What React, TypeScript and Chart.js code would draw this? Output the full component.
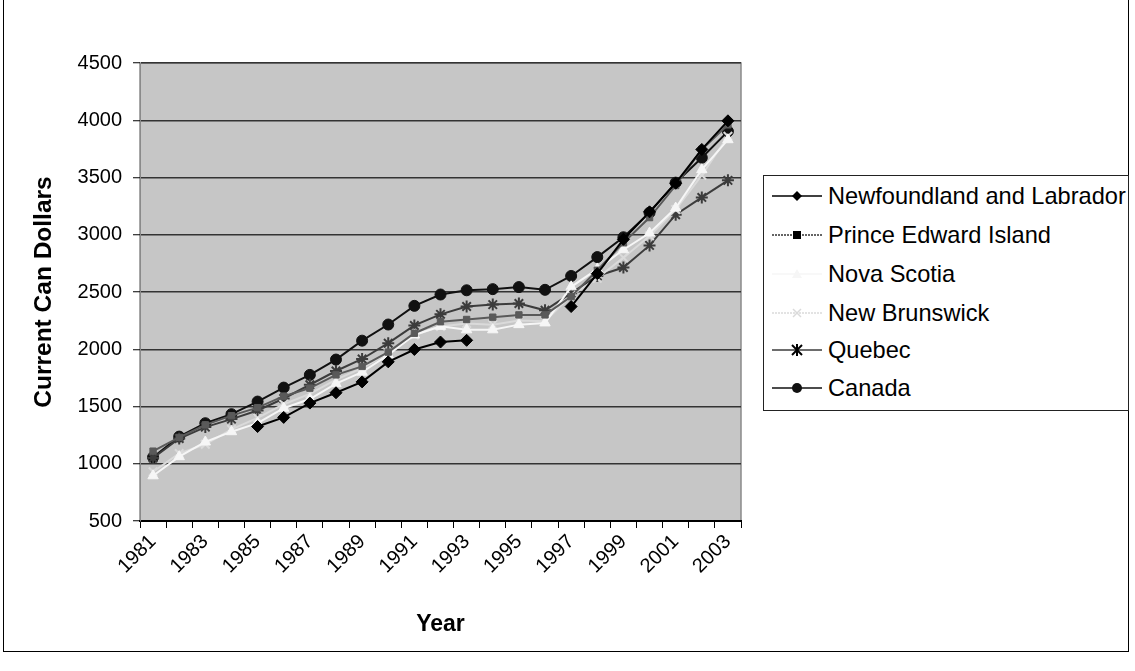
import React, { useEffect, useRef } from 'react';
import { Chart, registerables } from 'chart.js';

Chart.register(...registerables);

const FONT = "'Liberation Sans', Arial, Helvetica, sans-serif";

const years = ['1981', '1982', '1983', '1984', '1985', '1986', '1987', '1988', '1989', '1990', '1991', '1992', '1993', '1994', '1995', '1996', '1997', '1998', '1999', '2000', '2001', '2002', '2003'];

const yTicks = [500, 1000, 1500, 2000, 2500, 3000, 3500, 4000, 4500];

const newfoundland = [null, null, null, null, 1325, 1405, 1530, 1620, 1715, 1890, 1998, 2063, 2078, null, null, null, 2373, 2660, 2960, 3200, 3450, 3745, 3995];
const princeEdward = [1110, 1230, 1340, 1420, 1490, 1590, 1660, 1776, 1850, 1975, 2140, 2240, 2260, 2280, 2300, 2300, 2460, 2690, 2930, 3150, 3430, 3745, 3960];
const novaScotia = [895, 1062, 1190, 1280, 1355, 1485, 1565, 1700, 1800, 1950, 2125, 2200, 2170, 2170, 2215, 2230, 2545, 2700, 2869, 3015, 3233, 3568, 3830];
const newBrunswick = [930, 1090, 1170, 1300, 1400, 1520, 1610, 1735, 1835, 1966, 2125, 2198, 2225, 2215, 2250, 2245, 2470, 2620, 2800, 2990, 3220, 3520, 3860];
const quebec = [1050, 1220, 1320, 1390, 1465, 1570, 1690, 1810, 1915, 2053, 2208, 2305, 2373, 2390, 2400, 2340, 2490, 2640, 2714, 2907, 3175, 3326, 3475];
const canada = [1057, 1237, 1354, 1433, 1543, 1665, 1776, 1910, 2075, 2216, 2379, 2478, 2515, 2525, 2543, 2519, 2640, 2805, 2978, 3193, 3455, 3673, 3903];

type SeriesDef = {
  label: string;
  data: (number | null)[];
  color: string;
  marker: 'diamond' | 'square' | 'triangle' | 'x' | 'star' | 'circle';
};

const series: SeriesDef[] = [
  { label: 'Newfoundland and Labrador', data: newfoundland, color: '#000000', marker: 'diamond' },
  { label: 'Prince Edward Island', data: princeEdward, color: '#5a5a5a', marker: 'square' },
  { label: 'Nova Scotia', data: novaScotia, color: '#f6f6f6', marker: 'triangle' },
  { label: 'New Brunswick', data: newBrunswick, color: '#dadada', marker: 'x' },
  { label: 'Quebec', data: quebec, color: '#3c3c3c', marker: 'star' },
  { label: 'Canada', data: canada, color: '#111111', marker: 'circle' },
];

const chartStyle: Record<string, string> = {
  diamond: 'rectRot',
  square: 'rect',
  triangle: 'triangle',
  x: 'crossRot',
  star: 'star',
  circle: 'circle',
};

function LegendSample({ s }: { s: SeriesDef }) {
  const c = s.color;
  const cx = 25;
  const cy = 10;
  let m: React.ReactNode = null;
  if (s.marker === 'diamond') m = <polygon points={`${cx},${cy - 5} ${cx + 5},${cy} ${cx},${cy + 5} ${cx - 5},${cy}`} fill={c} />;
  if (s.marker === 'square') m = <rect x={cx - 4} y={cy - 4} width={8} height={8} fill="#000" />;
  if (s.marker === 'triangle') m = <polygon points={`${cx},${cy - 5} ${cx + 5},${cy + 4} ${cx - 5},${cy + 4}`} fill={c} />;
  if (s.marker === 'x') m = <g stroke={c} strokeWidth={1.5}><line x1={cx - 4} y1={cy - 4} x2={cx + 4} y2={cy + 4} /><line x1={cx - 4} y1={cy + 4} x2={cx + 4} y2={cy - 4} /></g>;
  if (s.marker === 'star') m = <g stroke="#000" strokeWidth={2}><line x1={cx - 5} y1={cy - 5} x2={cx + 5} y2={cy + 5} /><line x1={cx - 5} y1={cy + 5} x2={cx + 5} y2={cy - 5} /><line x1={cx} y1={cy - 6} x2={cx} y2={cy + 6} /></g>;
  if (s.marker === 'circle') m = <circle cx={cx} cy={cy} r={5} fill={c} />;
  const dash = s.marker === 'square' || s.marker === 'x' ? '2,1' : undefined;
  return (
    <svg width={50} height={20} style={{ position: 'absolute', left: 9, top: -10 }}>
      <line x1={0} y1={cy} x2={50} y2={cy} stroke={s.marker === 'square' ? '#333' : c} strokeWidth={1.5} strokeDasharray={dash} />
      {m}
    </svg>
  );
}

export default function App() {
  const ref = useRef<HTMLCanvasElement>(null);

  useEffect(() => {
    if (!ref.current) return;
    const bgPlugin = {
      id: 'plotBg',
      beforeDraw(chart: any) {
        const { ctx, chartArea: a } = chart;
        ctx.save();
        ctx.fillStyle = '#c6c6c6';
        ctx.fillRect(a.left, a.top, a.right - a.left, a.bottom - a.top);
        ctx.strokeStyle = '#8a8a8a';
        ctx.lineWidth = 1.5;
        ctx.strokeRect(a.left, a.top, a.right - a.left, a.bottom - a.top);
        ctx.restore();
      },
    };
    const chart = new Chart(ref.current, {
      type: 'line',
      data: {
        labels: years,
        datasets: series.map((s) => ({
          label: s.label,
          data: s.data,
          borderColor: s.color,
          backgroundColor: s.color,
          pointBackgroundColor: s.color,
          pointBorderColor: s.color,
          pointStyle: chartStyle[s.marker] as any,
          pointRadius: s.marker === 'square' ? 4.5 : s.marker === 'circle' ? 5.5 : 6,
          pointBorderWidth: s.marker === 'x' || s.marker === 'star' ? 2 : 1,
          borderWidth: 2,
          tension: 0,
          spanGaps: false,
        })),
      },
      options: {
        responsive: false,
        animation: false,
        devicePixelRatio: 1,
        layout: { padding: { left: 27, top: 63, right: 394, bottom: 29 } },
        plugins: { legend: { display: false }, tooltip: { enabled: false } },
        scales: {
          x: {
            type: 'category',
            offset: true,
            grid: { offset: true, drawOnChartArea: false, drawTicks: true, tickLength: 7, color: '#000', lineWidth: 1 },
            border: { color: '#000', width: 2 },
            ticks: {
              autoSkip: false,
              maxRotation: 45,
              minRotation: 45,
              padding: 2,
              color: '#000',
              font: { family: FONT, size: 20 },
              callback: (_v: any, i: number) => (i % 2 === 0 ? years[i] : ''),
            },
            title: { display: true, text: 'Year', color: '#000', font: { family: FONT, size: 23, weight: 'bold' }, padding: { top: 0, bottom: 4 } },
            afterFit: (s: any) => { s.height = 121; },
          },
          y: {
            min: yTicks[0],
            max: yTicks[yTicks.length - 1],
            afterBuildTicks: (s: any) => { s.ticks = yTicks.map((v) => ({ value: v })); },
            ticks: { padding: 11, color: '#000', font: { family: FONT, size: 20 }, callback: (v: any) => String(v) },
            grid: { color: '#333333', lineWidth: 1.5, tickLength: 7, tickColor: '#000', tickWidth: 1 },
            border: { color: '#8a8a8a', width: 1 },
            title: { display: true, text: 'Current Can Dollars', color: '#000', font: { family: FONT, size: 24.5, weight: 'bold' }, padding: { top: 3, bottom: 0 } },
            afterFit: (s: any) => { s.width = 113; },
          },
        },
      },
      plugins: [bgPlugin],
    } as any);
    return () => chart.destroy();
  }, []);

  const legendRows = [196, 235, 274, 313, 350, 388];

  return (
    <div style={{ position: 'absolute', left: 0, top: 0, width: 1135, height: 671, background: '#fff', overflow: 'hidden', fontFamily: FONT }}>
      <div style={{ position: 'absolute', left: 3, top: -2, width: 1126, height: 654, border: '1px solid #000', boxSizing: 'border-box' }} />
      <canvas ref={ref} width={1135} height={671} style={{ position: 'absolute', left: 0, top: 0, width: 1135, height: 671 }} />
      <div style={{ position: 'absolute', left: 763, top: 175, width: 366, height: 236, border: '1px solid #222', boxSizing: 'border-box', background: '#fff' }} />
      {series.map((s, i) => (
        <div key={s.label} style={{ position: 'absolute', left: 763, top: legendRows[i], height: 0 }}>
          <LegendSample s={s} />
          <span style={{ position: 'absolute', left: 65, top: -14, fontSize: 23.6, lineHeight: '28px', whiteSpace: 'nowrap', color: '#000' }}>{s.label}</span>
        </div>
      ))}
    </div>
  );
}
